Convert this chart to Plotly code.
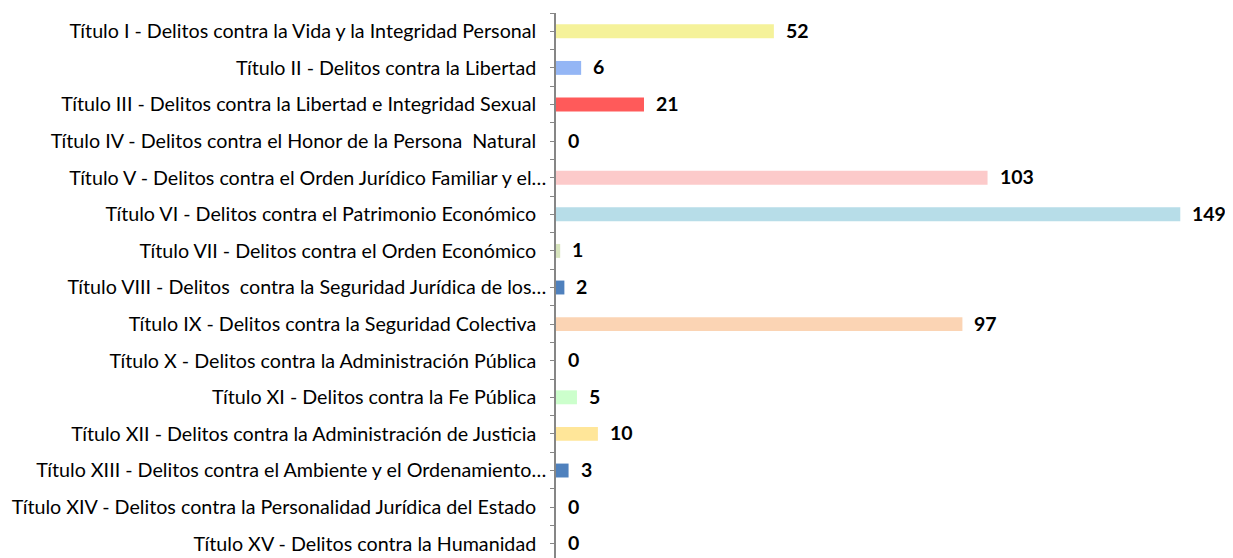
import plotly.graph_objects as go

categories = [
    "Título I - Delitos contra la Vida y la Integridad Personal",
    "Título II - Delitos contra la Libertad",
    "Título III - Delitos contra la Libertad e Integridad Sexual",
    "Título IV - Delitos contra el Honor de la Persona\u00a0 Natural",
    "Título V - Delitos contra el Orden Jurídico Familiar y el…",
    "Título VI - Delitos contra el Patrimonio Económico",
    "Título VII - Delitos contra el Orden Económico",
    "Título VIII - Delitos\u00a0 contra la Seguridad Jurídica de los…",
    "Título IX - Delitos contra la Seguridad Colectiva",
    "Título X - Delitos contra la Administración Pública",
    "Título XI - Delitos contra la Fe Pública",
    "Título XII - Delitos contra la Administración de Justicia",
    "Título XIII - Delitos contra el Ambiente y el Ordenamiento…",
    "Título XIV - Delitos contra la Personalidad Jurídica del Estado",
    "Título XV - Delitos contra la Humanidad",
]
values = [52, 6, 21, 0, 103, 149, 1, 2, 97, 0, 5, 10, 3, 0, 0]
colors = ["#F5F29A", "#94B6F5", "#FF5A5A", "#CCCCCC", "#FCCACA", "#B7DDE8",
          "#D7E4BD", "#4F81BD", "#FBD4B4", "#CCCCCC", "#CCFFCC", "#FFE699",
          "#4F81BD", "#CCCCCC", "#CCCCCC"]

FONT = "Lato, 'Open Sans', sans-serif"

def lab(c):
    return c if c.endswith("…") else c + "\u00a0\u00a0"

idx = list(range(len(categories)))
fig = go.Figure()
fig.add_trace(go.Bar(
    x=values, y=idx, orientation="h",
    marker=dict(color=colors, line=dict(width=0)),
    width=0.38, showlegend=False, hoverinfo="skip",
))
for i, v in zip(idx, values):
    fig.add_annotation(x=v, y=i, text=f"<b>{v}</b>", showarrow=False,
                       xanchor="left", yanchor="middle", xshift=10, yshift=1,
                       font=dict(family=FONT, size=19.5, color="black"))

tickvals = []
ticktext = []
for i in idx:
    tickvals += [i - 0.5, i]
    ticktext += ["", lab(categories[i])]
tickvals.append(len(idx) - 0.5)
ticktext.append("")

fig.update_layout(
    width=1217, height=550,
    margin=dict(l=548, r=20, t=5, b=0),
    paper_bgcolor="white", plot_bgcolor="white",
    font=dict(family=FONT, size=19.7, color="black"),
    xaxis=dict(range=[0, 154.9], visible=False, automargin=False),
    yaxis=dict(range=[14.39, -0.5], tickmode="array", tickvals=tickvals,
               ticktext=ticktext, ticks="outside", ticklen=4, tickcolor="#868686",
               tickwidth=1.3, showline=True, linecolor="#868686", linewidth=1.5,
               showgrid=False, zeroline=False, ticklabelstandoff=0, automargin=False,
               tickfont=dict(family=FONT, size=19.7, color="black")),
)
fig.write_html("out.html")
